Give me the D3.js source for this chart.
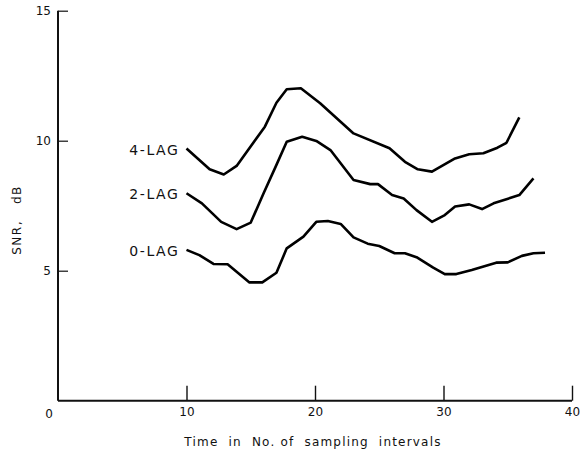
<!DOCTYPE html>
<html>
<head>
<meta charset="utf-8">
<script src="https://cdn.jsdelivr.net/npm/d3@7"></script>
<style>
  body { margin: 0; background: #fff; }
  svg { display: block; }
  text { font-family: "DejaVu Sans", sans-serif; fill: #111; white-space: pre; }
</style>
</head>
<body>
<svg id="chart" width="581" height="454"></svg>
<script>
// values (time, SNR dB)
var lag4T = [10, 11.8, 12.9, 13.9, 16.1, 17, 17.8, 18.9, 20.4, 23, 25.8, 27, 28, 29.1, 30.9, 32, 33.1, 34.2, 34.9, 35.9];
var lag4V = [9.7, 8.9, 8.7, 9.03, 10.54, 11.46, 11.98, 12.02, 11.44, 10.28, 9.71, 9.19, 8.9, 8.81, 9.32, 9.48, 9.52, 9.73, 9.92, 10.9];

var lag2T = [10, 11.2, 12.7, 13.9, 15, 16, 17, 17.8, 19, 20.1, 21.2, 23, 24.3, 24.9, 26, 26.9, 27.9, 29.1, 30.1, 30.9, 32, 33, 33.9, 35.9, 37];
var lag2V = [7.98, 7.59, 6.88, 6.6, 6.85, 7.98, 9.07, 9.96, 10.15, 9.99, 9.64, 8.49, 8.33, 8.33, 7.91, 7.78, 7.33, 6.88, 7.14, 7.47, 7.55, 7.37, 7.59, 7.91, 8.55];

var lag0T = [10, 11, 12.1, 13.2, 14.9, 15.9, 17, 17.8, 19.1, 20.1, 21, 22, 23, 24.1, 25, 26.2, 27, 27.9, 29.2, 30.1, 31, 32.2, 34.1, 35, 36.1, 37, 37.9];
var lag0V = [5.8, 5.6, 5.26, 5.25, 4.55, 4.55, 4.92, 5.86, 6.31, 6.88, 6.91, 6.8, 6.28, 6.04, 5.95, 5.67, 5.67, 5.52, 5.12, 4.87, 4.87, 5.03, 5.31, 5.32, 5.57, 5.67, 5.69];

var seriesNames = ['4-LAG', '2-LAG', '0-LAG'];
var xTicks = [10, 20, 30, 40];
var yTicks = [5, 10, 15];

var svg = d3.select('#chart');

var x = d3.scaleLinear().domain([0, 40]).range([58, 572]);
var y = d3.scaleLinear().domain([0, 15]).range([400.7, 10.7]);

// x ticks point up into the plot
var xAxis = svg.append('g')
  .attr('transform', 'translate(0,' + y(0) + ')')
  .call(d3.axisBottom(x).tickValues(xTicks).tickSize(-15).tickSizeOuter(0).tickPadding(7));
xAxis.select('.domain').remove();
xAxis.selectAll('.tick line').attr('stroke', '#111').attr('stroke-width', 1.4);
xAxis.selectAll('.tick text').attr('font-size', 12).attr('fill', '#111');

// y ticks point right
var yAxis = svg.append('g')
  .attr('transform', 'translate(' + x(0) + ',0)')
  .call(d3.axisLeft(y).tickValues(yTicks).tickSize(-10).tickSizeOuter(0).tickPadding(7));
yAxis.select('.domain').remove();
yAxis.selectAll('.tick line').attr('stroke', '#111').attr('stroke-width', 1.2);
yAxis.selectAll('.tick text').attr('font-size', 12).attr('fill', '#111');

// origin label sits a little left of the corner
svg.append('text')
  .attr('x', x(0) - 9).attr('y', y(0) + 17)
  .attr('text-anchor', 'middle').attr('font-size', 12)
  .text('0');

// axis lines
svg.append('line')
  .attr('x1', x(0)).attr('x2', x(40)).attr('y1', y(0)).attr('y2', y(0))
  .attr('stroke', '#111').attr('stroke-width', 2);
svg.append('line')
  .attr('x1', x(0)).attr('x2', x(0)).attr('y1', y(0)).attr('y2', y(15))
  .attr('stroke', '#111').attr('stroke-width', 2);

var line = d3.line()
  .x(function(d) { return x(d[0]); })
  .y(function(d) { return y(d[1]); });

var series = [
  d3.zip(lag4T, lag4V),
  d3.zip(lag2T, lag2V),
  d3.zip(lag0T, lag0V)
];

svg.selectAll('path.series')
  .data(series)
  .enter().append('path')
  .attr('class', 'series')
  .attr('d', line)
  .attr('fill', 'none')
  .attr('stroke', '#000')
  .attr('stroke-width', 2.6)
  .attr('stroke-linejoin', 'round');

// series labels, just left of each line start
svg.selectAll('text.lab')
  .data(series)
  .enter().append('text')
  .attr('class', 'lab')
  .attr('x', function(d) { return x(d[0][0]) - 7; })
  .attr('y', function(d) { return y(d[0][1]) + 6; })
  .attr('text-anchor', 'end')
  .attr('font-size', 14)
  .attr('letter-spacing', 1.6)
  .text(function(d, i) { return seriesNames[i]; });

// axis titles
svg.append('text')
  .attr('x', 313).attr('y', 446)
  .attr('text-anchor', 'middle')
  .attr('font-size', 12)
  .attr('letter-spacing', 1.2)
  .text('Time  in  No. of  sampling  intervals');

svg.append('text')
  .attr('transform', 'translate(21,220) rotate(-90)')
  .attr('text-anchor', 'middle')
  .attr('font-size', 12)
  .attr('letter-spacing', 1.5)
  .text('SNR,   dB');
</script>
</body>
</html>
